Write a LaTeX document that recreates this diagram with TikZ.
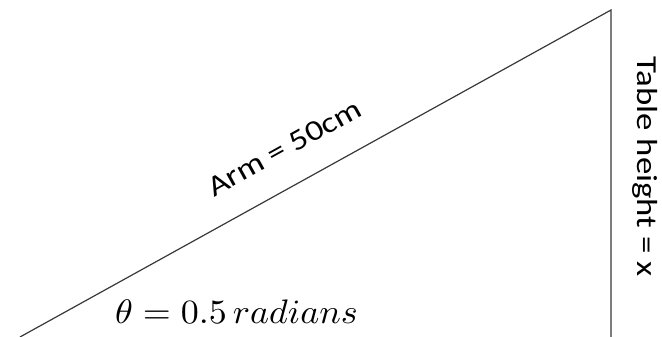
\documentclass[tikz,border=0pt]{standalone}
\usepackage{fontspec}
\usepackage{graphicx}
\setmainfont{Carlito}
\newcommand{\wideTxt}[1]{\scalebox{1.2}[1]{#1}}
\begin{document}
\begin{tikzpicture}[x=1pt,y=-1pt,
  edge/.style={draw=black!78,line width=1.2pt},
  lbl/.style={inner sep=0pt,anchor=base,font=\fontsize{29}{34}\selectfont},
  mathlbl/.style={inner sep=0pt,anchor=base}]
\useasboundingbox (0,0) rectangle (662,337);
\coordinate (base) at (20,337);
\coordinate (apex) at (611,10);
\coordinate (foot) at (611,337);
\draw[edge] (base) -- (apex) -- (foot);
\node[lbl,rotate=29] (arm) at (289,156) {\wideTxt{Arm = 50cm}};
\node[lbl,rotate=-90] (height) at (637,166.5) {\wideTxt{Table height = x}};
\node[mathlbl] (theta) at (236.5,323) {\scalebox{3.6}[3.4]{$\theta = 0.5\,radians$}};
\end{tikzpicture}
\end{document}
